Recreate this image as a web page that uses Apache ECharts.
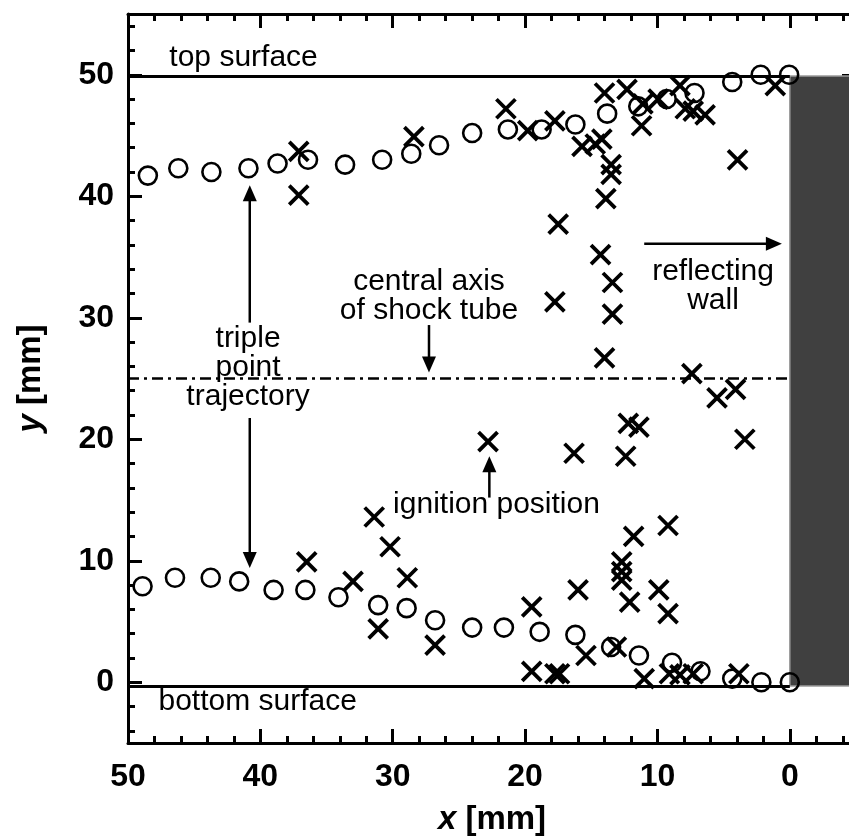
<!DOCTYPE html>
<html><head><meta charset="utf-8">
<script src="https://cdn.jsdelivr.net/npm/echarts@6/dist/echarts.min.js"></script>
<style>html,body{margin:0;padding:0;background:#fff}#c{width:849px;height:837px}</style>
</head><body><div id="c"></div>
<script>
// ---------------- data (mm) ----------------
const circlesTop = [[48.5,41.7],[46.2,42.3],[43.7,42.0],[40.9,42.3],[38.7,42.7],[36.4,43.0],[33.6,42.6],[30.8,43.0],[28.6,43.5],[26.5,44.2],[24.0,45.2],[21.3,45.5],[18.75,45.5],[16.2,45.9],[13.8,46.8],[11.45,47.4],[9.3,48.0],[7.2,48.5],[4.35,49.4],[2.2,50.0],[0.05,50.0]];
const circlesBottom = [[48.9,7.9],[46.45,8.6],[43.75,8.6],[41.6,8.3],[39.0,7.6],[36.6,7.6],[34.1,7.0],[31.1,6.35],[28.95,6.1],[26.8,5.1],[24.0,4.5],[21.6,4.5],[18.9,4.15],[16.2,3.9],[13.5,2.9],[11.4,2.2],[8.9,1.6],[6.75,0.9],[4.35,0.3],[2.15,0.0],[0.0,0.0]];
const crossesTop = [[37.1,43.7],[37.1,40.1],[28.4,44.9],[21.45,47.2],[19.8,45.4],[17.75,46.2],[15.7,44.1],[14.7,44.3],[14.2,44.7],[13.5,42.6],[13.5,41.8],[13.9,39.8],[17.5,37.7],[14.0,48.5],[12.3,48.8],[11.1,47.6],[11.2,45.8],[9.95,48.0],[8.3,49.1],[7.9,47.2],[7.3,47.0],[6.4,46.7],[1.1,49.1],[3.95,43.0]];
const crossesMiddle = [[14.3,35.2],[17.75,31.3],[13.4,32.9],[13.4,30.3],[14.0,26.7],[7.4,25.4],[5.5,23.4],[4.1,24.1],[12.2,21.3],[11.4,21.0],[3.4,20.0],[22.8,19.8],[16.3,18.85],[12.4,18.6]];
const crossesBottom = [[36.5,9.9],[33.0,8.3],[31.4,13.6],[30.2,11.15],[28.9,8.6],[31.1,4.4],[26.8,3.05],[19.5,6.2],[19.5,0.9],[17.75,0.7],[17.4,0.7],[16.0,7.6],[15.4,2.2],[13.1,2.9],[11.0,0.3],[12.7,9.9],[12.7,9.1],[12.7,8.4],[11.8,12.0],[9.2,12.9],[12.1,6.6],[9.9,7.6],[9.2,5.65],[9.1,0.7],[8.3,0.6],[7.3,0.7],[3.85,0.7]];

const xRange = [-5, 50];
const yRange = [-5, 55];
const majorStep = 10;
const minorStep = 2;
const topSurfaceY = 49.9;
const bottomSurfaceY = -0.3;
const centralAxisY = 25;
const wallX = 0;

const labels = [
  {text:'top surface', at:[41.27,51.4]},
  {text:'bottom surface', at:[40.2,-1.6]},
  {text:'triple\npoint\ntrajectory', at:[40.93,25.9], bg:true},
  {text:'central axis\nof shock tube', at:[27.26,31.8]},
  {text:'ignition position', at:[22.16,14.6]},
  {text:'reflecting\nwall', at:[5.8,32.6]}
];
const arrows = [
  {from:[40.8,29.6], to:[40.8,40.9]},
  {from:[40.8,21.75], to:[40.8,9.4]},
  {from:[27.26,29.4], to:[27.26,25.5]},
  {from:[22.7,15.2], to:[22.7,18.6]},
  {from:[11.0,36.1], to:[0.6,36.1]}
];

// ---------------- layout ----------------
const F = "'Liberation Sans', Arial, Helvetica, sans-serif";
const PLOT = {left:128, top:14, right:856, bottom:743};
const kx = (PLOT.right-PLOT.left)/(xRange[1]-xRange[0]);
const ky = (PLOT.bottom-PLOT.top)/(yRange[1]-yRange[0]);
function gridFor(xmin,xmax,ymin,ymax){
  return {left: PLOT.left + (xRange[1]-xmax)*kx, top: PLOT.top + (yRange[1]-ymax)*ky,
          width:(xmax-xmin)*kx, height:(ymax-ymin)*ky, containLabel:false, outerBoundsMode:'none'};
}
const gData = gridFor(xRange[0],xRange[1],yRange[0],yRange[1]);
const majX=[0,50], majY=[0,50];
const minX=[-4,50], minY=[-4,54];
const gMaj = gridFor(majX[0],majX[1],majY[0],majY[1]);
const gMin = gridFor(minX[0],minX[1],minY[0],minY[1]);
function offs(g){
  return {bottom: PLOT.bottom-(g.top+g.height), top: g.top-PLOT.top, left: g.left-PLOT.left, right: PLOT.right-(g.left+g.width)};
}
const oMaj = offs(gMaj), oMin = offs(gMin);

function tickLabel(margin){
  return {show:true, color:'#000', fontFamily:F, fontWeight:'bold', fontSize:32, margin, formatter: v => String(v)};
}
function tickAxis(dim, gridIndex, pos, range, step, offset, len, withLabels){
  return {type:'value', gridIndex, position:pos, min:range[0], max:range[1], interval:step, offset,
    inverse: dim==='x',
    axisLine:{show:false, onZero:false}, splitLine:{show:false},
    axisTick:{show:true, inside:true, length:len, lineStyle:{color:'#000', width:3}},
    axisLabel: withLabels ? tickLabel(dim==='x' ? 18 : 14) : {show:false}};
}
function frameAxis(dim, pos, range, extra){
  return Object.assign({type:'value', gridIndex:0, position:pos, min:range[0], max:range[1], inverse: dim==='x',
    axisLine:{show:true, onZero:false, lineStyle:{color:'#000', width:3}},
    axisTick:{show:false}, axisLabel:{show:false}, splitLine:{show:false}}, extra||{});
}
const nameStyle = {color:'#000', fontFamily:F, fontWeight:'bold', fontSize:33,
  rich:{i:{fontStyle:'italic', fontWeight:'bold', fontSize:33, fontFamily:F, color:'#000'}, n:{fontWeight:'bold', fontSize:33, fontFamily:F, color:'#000'}}};

const crossSymbol = 'path://M0,0L10,10M10,0L0,10';
const circleStyle = {symbol:'circle', symbolSize:18, itemStyle:{color:'rgba(0,0,0,0)', borderColor:'#000', borderWidth:2.6, opacity:1}};
const crossStyle = {symbol:crossSymbol, symbolSize:19, symbolKeepAspect:true, itemStyle:{color:'none', borderColor:'#000', borderWidth:3.8, opacity:1}};

const option = {
  animation:false,
  backgroundColor:'#fff',
  grid:[gData, gMaj, gMin],
  xAxis:[
    frameAxis('x','bottom',xRange,{name:'{i|x}{n| [mm]}', nameLocation:'middle', nameGap:60, nameTextStyle:nameStyle}),
    frameAxis('x','top',xRange),
    tickAxis('x',1,'bottom',majX,majorStep,oMaj.bottom,14,true),
    tickAxis('x',1,'top',majX,majorStep,oMaj.top,14,false),
    tickAxis('x',2,'bottom',minX,minorStep,oMin.bottom,7,false),
    tickAxis('x',2,'top',minX,minorStep,oMin.top,7,false)
  ],
  yAxis:[
    frameAxis('y','left',yRange,{name:'{i|y}{n| [mm]}', nameLocation:'middle', nameGap:81, nameRotate:90, nameTextStyle:nameStyle}),
    frameAxis('y','right',yRange),
    tickAxis('y',1,'left',majY,majorStep,oMaj.left,14,true),
    tickAxis('y',1,'right',majY,majorStep,oMaj.right,14,false),
    tickAxis('y',2,'left',minY,minorStep,oMin.left,7,false),
    tickAxis('y',2,'right',minY,minorStep,oMin.right,7,false)
  ],
  series:[
    {type:'line', data:[], xAxisIndex:0, yAxisIndex:0, z:1, silent:true,
     markArea:{silent:true, itemStyle:{color:'#404040', borderColor:'#9a9a9a', borderWidth:1.5, opacity:1},
       data:[[{coord:[wallX,bottomSurfaceY]},{coord:[xRange[0],topSurfaceY]}]]}},
    {type:'line', data:[], xAxisIndex:0, yAxisIndex:0, z:2, silent:true,
     markLine:{silent:true, symbol:['none','none'], label:{show:false},
       data:[
         [{coord:[xRange[1],topSurfaceY], lineStyle:{color:'#000', width:3, type:'solid', opacity:1}},{coord:[wallX,topSurfaceY]}],
         [{coord:[xRange[1],bottomSurfaceY], lineStyle:{color:'#000', width:3, type:'solid', opacity:1}},{coord:[wallX,bottomSurfaceY]}],
         [{coord:[xRange[1],centralAxisY], lineStyle:{color:'#000', width:2.5, type:[11,5,3,5], opacity:1}},{coord:[wallX,centralAxisY]}]
       ]}},
    Object.assign({type:'scatter', name:'circles top', data:circlesTop, xAxisIndex:0, yAxisIndex:0, z:10}, circleStyle),
    Object.assign({type:'scatter', name:'circles bottom', data:circlesBottom, xAxisIndex:0, yAxisIndex:0, z:10}, circleStyle),
    Object.assign({type:'scatter', name:'crosses top', data:crossesTop, xAxisIndex:0, yAxisIndex:0, z:10}, crossStyle),
    Object.assign({type:'scatter', name:'crosses middle', data:crossesMiddle, xAxisIndex:0, yAxisIndex:0, z:10}, crossStyle),
    Object.assign({type:'scatter', name:'crosses bottom', data:crossesBottom, xAxisIndex:0, yAxisIndex:0, z:10}, crossStyle)
  ]
};

const chart = echarts.init(document.getElementById('c'), null, {renderer:'canvas'});
chart.setOption(option);

const toPx = p => chart.convertToPixel({xAxisIndex:0, yAxisIndex:0}, p);
const graphics = [];
labels.forEach(l => {
  const p = toPx(l.at);
  graphics.push({type:'text', x:p[0], y:p[1], z:3, silent:true,
    style:{text:l.text, fill:'#000', fontFamily:F, fontSize:30, lineHeight:29, align:'center', verticalAlign:'middle',
      backgroundColor: l.bg ? '#fff' : null}});
});
const headLen = 16, headHalf = 7;
arrows.forEach(a => {
  const p0 = toPx(a.from), p1 = toPx(a.to);
  const dx = p1[0]-p0[0], dy = p1[1]-p0[1], L = Math.hypot(dx,dy);
  const ux = dx/L, uy = dy/L, nx = -uy, ny = ux;
  const bx = p1[0]-ux*headLen, by = p1[1]-uy*headLen;
  graphics.push({type:'line', z:4, silent:true, shape:{x1:p0[0], y1:p0[1], x2:bx+ux*2, y2:by+uy*2}, style:{stroke:'#000', lineWidth:2.5}});
  graphics.push({type:'polygon', z:4, silent:true, shape:{points:[[p1[0],p1[1]],[bx+nx*headHalf,by+ny*headHalf],[bx-nx*headHalf,by-ny*headHalf]]}, style:{fill:'#000'}});
});
chart.setOption({graphic:graphics});
</script></body></html>
